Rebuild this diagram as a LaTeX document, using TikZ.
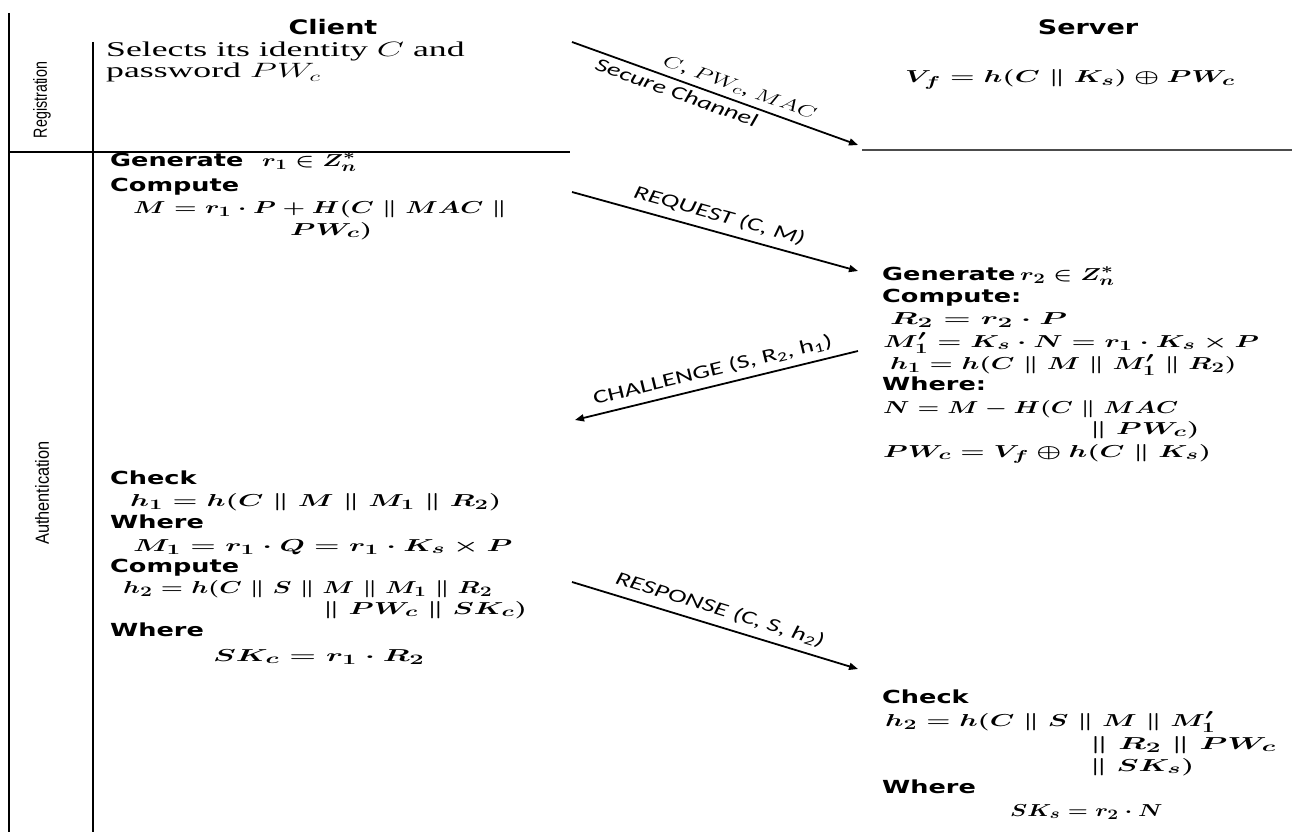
\documentclass[tikz,border=0pt]{standalone}
\usepackage{amsmath,amssymb}
\usepackage{fontspec}
\setmainfont{Liberation Serif}
\newfontfamily\boldsans{DejaVu Sans}
\newfontfamily\sidesans{Liberation Sans}
\newfontfamily\arrsans{Carlito}
\usetikzlibrary{arrows.meta}
\newcommand\HL[1]{\scalebox{1.42}[1]{\fontsize{18}{22}\boldsans\bfseries #1}}
\newcommand\MX[2][1.6]{\scalebox{#1}[1]{\fontsize{19}{22}\selectfont\boldmath$#2$}}
\newcommand\HD[1]{\scalebox{1.35}[1]{\fontsize{20}{24}\boldsans\bfseries #1}}
\newcommand\RT[1]{\scalebox{1.7}[1]{\fontsize{21}{24}\selectfont #1}}
\newcommand\AL[1]{\scalebox{1.45}[1]{\fontsize{19}{22}\arrsans #1}}
\newcommand\SL[2]{\scalebox{#1}[1]{\fontsize{19}{22}\sidesans #2}}
\begin{document}
\begin{tikzpicture}[x=1pt,y=-1pt,
  txt/.style={inner sep=0pt, anchor=base west},
  rule/.style={line width=2.2pt, black},
  msg/.style={line width=1.8pt, -{Triangle[length=9pt,width=7pt]}},
  side/.style={inner sep=0pt, rotate=90}]
\useasboundingbox (0,0) rectangle (1292,832);
% frame lines
\draw[rule] (9,13) -- (9,832);
\draw[rule] (93,42) -- (93,832);
\draw[rule] (8,152) -- (570,152);
\draw[line width=1.6pt, black!70] (862,150) -- (1292,150);
% side labels
\node[side] (reg) at (42,100) {\SL{0.75}{Registration}};
\node[side] (auth) at (42,493) {\SL{0.86}{Authentication}};
% headings
\node[inner sep=0pt] (client) at (333,27) {\HD{Client}};
\node[inner sep=0pt] (server) at (1088,27) {\HD{Server}};
% registration
\node[txt] (r1) at (106,57) {\RT{Selects its identity $C$ and}};
\node[txt] (r2) at (106,78) {\RT{password $PW_c$}};
\node[txt] (vf) at (905,83) {\MX[1.63]{V_f = h(C \parallel K_s) \oplus PW_c}};
\coordinate (a1s) at (572,42);
\coordinate (a1e) at (858,145);
\draw[msg] (a1s) -- (a1e)
  node[pos=0.57, sloped, above=2pt] (a1t) {\AL{\itshape $C$, $PW_c$, $MAC$}}
  node[pos=0.38, sloped, below=1pt] (a1b) {\AL{\itshape Secure Channel}};
% client auth 1
\node[txt] (c1) at (110,166) {\HL{Generate}};
\node[txt] (c1m) at (262,166) {\MX[1.43]{r_1 \in Z_n^{*}}};
\node[txt] (c2) at (110,191) {\HL{Compute}};
\node[txt] (c3) at (133,213) {\MX[1.5]{M = r_1 \cdot P + H(C \parallel MAC \parallel}};
\node[txt] (c4) at (290,235) {\MX[1.66]{PW_c)}};
\coordinate (a2s) at (572,192);
\coordinate (a2e) at (858,271);
\draw[msg] (a2s) -- (a2e)
  node[pos=0.5, sloped, above=4pt] (a2t) {\AL{\itshape REQUEST (C, M)}};
% server auth 1
\node[txt] (s1) at (882,280) {\HL{Generate}};
\node[txt] (s1m) at (1020,280) {\MX[1.43]{r_2 \in Z_n^{*}}};
\node[txt] (s2) at (882,302) {\HL{Compute:}};
\node[txt] (s3) at (890,324) {\MX[1.82]{R_2 = r_2 \cdot P}};
\node[txt] (s4) at (883,347) {\MX[1.6]{M_1' = K_s \cdot N = r_1 \cdot K_s \times P}};
\node[txt] (s5) at (890,369) {\MX[1.54]{h_1 = h(C \parallel M \parallel M_1' \parallel R_2)}};
\node[txt] (s6) at (882,390) {\HL{Where:}};
\node[txt] (s7) at (883,413) {\MX[1.44]{N = M - H(C \parallel MAC}};
\node[txt] (s8) at (1090,434) {\MX[1.68]{\parallel PW_c)}};
\node[txt] (s9) at (883,457) {\MX[1.62]{PW_c = V_f \oplus h(C \parallel K_s)}};
\coordinate (a3s) at (858,351);
\coordinate (a3e) at (575,420);
\draw[msg] (a3s) -- (a3e);
\path (a3e) -- (a3s)
  node[pos=0.5, sloped, above=4pt] (a3t) {\AL{CHALLENGE (S, R\textsubscript{2}, h\textsubscript{1})}};
% client auth 2
\node[txt] (d1) at (110,484) {\HL{Check}};
\node[txt] (d2) at (130,506) {\MX[1.65]{h_1 = h(C \parallel M \parallel M_1 \parallel R_2)}};
\node[txt] (d3) at (110,528) {\HL{Where}};
\node[txt] (d4) at (133,551) {\MX[1.69]{M_1 = r_1 \cdot Q = r_1 \cdot K_s \times P}};
\node[txt] (d5) at (110,572) {\HL{Compute}};
\node[txt] (d6) at (123,593) {\MX[1.47]{h_2 = h(C \parallel S \parallel M \parallel M_1 \parallel R_2}};
\node[txt] (d7) at (323,614) {\MX[1.65]{\parallel PW_c \parallel SK_c)}};
\node[txt] (d8) at (110,636) {\HL{Where}};
\node[txt] (d9) at (213,661) {\MX[1.77]{SK_c = r_1 \cdot R_2}};
\coordinate (a4s) at (572,582);
\coordinate (a4e) at (858,669);
\draw[msg] (a4s) -- (a4e)
  node[pos=0.5, sloped, above=4pt] (a4t) {\AL{\itshape RESPONSE (C, S, h\textsubscript{2})}};
% server auth 2
\node[txt] (e1) at (882,703) {\HL{Check}};
\node[txt] (e2) at (885,726) {\MX[1.6]{h_2 = h(C \parallel S \parallel M \parallel M_1'}};
\node[txt] (e3) at (1090,749) {\MX[1.82]{\parallel R_2 \parallel PW_c}};
\node[txt] (e4) at (1090,771) {\MX[1.71]{\parallel SK_s)}};
\node[txt] (e5) at (882,793) {\HL{Where}};
\node[txt] (e6) at (1010,816) {\MX[1.33]{SK_s = r_2 \cdot N}};
\end{tikzpicture}
\end{document}
